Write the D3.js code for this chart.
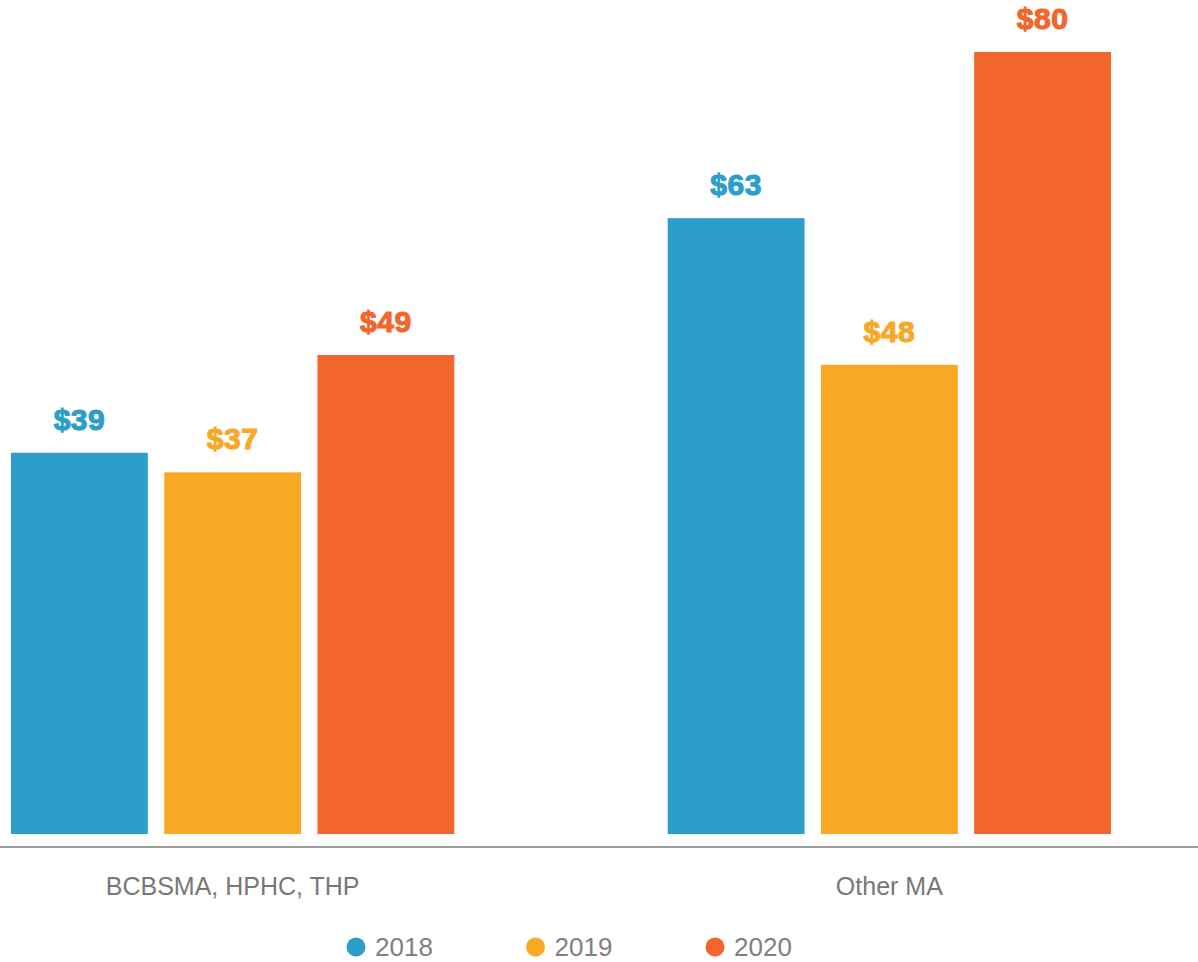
<!DOCTYPE html>
<meta charset="utf-8">
<html>
<head>
<title>Cost by plan group</title>
<style>
  body { margin: 0; background: #fff; }
  svg { display: block; }
  .val { font-family: "Liberation Sans", Arial, sans-serif; font-weight: bold; font-size: 30px; letter-spacing: 0.5px; stroke-width: 1.1px; }
  .cat { font-family: "Liberation Sans", sans-serif; font-size: 25px; fill: #787878; }
  .leg { font-family: "Liberation Sans", sans-serif; font-size: 26px; fill: #808080; }
</style>
<script src="https://cdn.jsdelivr.net/npm/d3@7"></script>
</head>
<body>
<svg width="1198" height="962"></svg>
<script>

var categories = ["BCBSMA, HPHC, THP", "Other MA"];
var years = ["2018", "2019", "2020"];
var values2018 = [39, 63];
var values2019 = [37, 48];
var values2020 = [49, 80];
var colors = ["#2b9fca", "#f9a823", "#f2662b"];

var series = [values2018, values2019, values2020];

var svg = d3.select("svg"),
    width = +svg.attr("width");

var x0 = d3.scaleBand()
    .domain(categories)
    .range([11, 1111])
    .paddingInner(0.325)
    .paddingOuter(0);

var x1 = d3.scaleBand()
    .domain(years)
    .range([0, x0.bandwidth()])
    .paddingInner(0.107)
    .paddingOuter(0);

var y = d3.scaleLinear()
    .domain([0, d3.max(values2020)])
    .range([834, 52]);

var color = d3.scaleOrdinal().domain(years).range(colors);

var groups = svg.selectAll("g.group")
    .data(categories)
    .enter()
    .append("g")
    .attr("class", "group")
    .attr("transform", function(d) { return "translate(" + x0(d) + ",0)"; });

var bars = groups.selectAll("g.bar")
    .data(function(d, ci) {
        return years.map(function(yr, yi) { return { year: yr, value: series[yi][ci] }; });
    })
    .enter()
    .append("g")
    .attr("class", "bar");

bars.append("rect")
    .attr("x", function(d) { return x1(d.year); })
    .attr("y", function(d) { return y(d.value); })
    .attr("width", x1.bandwidth())
    .attr("height", function(d) { return y(0) - y(d.value); })
    .attr("fill", function(d) { return color(d.year); });

bars.append("text")
    .attr("class", "val")
    .attr("x", function(d) { return x1(d.year) + x1.bandwidth() / 2; })
    .attr("y", function(d) { return y(d.value) - 23; })
    .attr("text-anchor", "middle")
    .attr("fill", function(d) { return color(d.year); })
    .attr("stroke", function(d) { return color(d.year); })
    .text(function(d) { return "$" + d.value; });

// baseline across the full width
svg.append("line")
    .attr("x1", 0)
    .attr("x2", width)
    .attr("y1", 847)
    .attr("y2", 847)
    .attr("stroke", "#9a9a9a")
    .attr("stroke-width", 2);

var xAxis = svg.append("g")
    .attr("transform", "translate(0,847)")
    .call(d3.axisBottom(x0).tickSize(0).tickPadding(30));
xAxis.select(".domain").remove();
xAxis.selectAll("text")
    .attr("class", "cat")
    .attr("fill", null);
xAxis.attr("font-size", null).attr("font-family", null);

// legend
var lx = d3.scalePoint().domain(years).range([356, 715]);

var legend = svg.selectAll("g.legend")
    .data(years)
    .enter()
    .append("g")
    .attr("class", "legend")
    .attr("transform", function(d) { return "translate(" + lx(d) + ",947)"; });

legend.append("circle")
    .attr("r", 9.5)
    .attr("fill", function(d) { return color(d); });

legend.append("text")
    .attr("class", "leg")
    .attr("x", 19)
    .attr("y", 9)
    .text(function(d) { return d; });

</script>
</body>
</html>
